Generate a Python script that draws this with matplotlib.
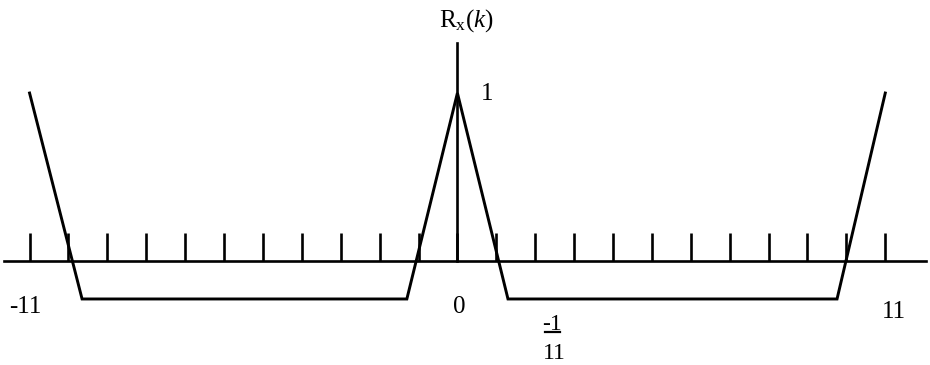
import numpy as np
import matplotlib
matplotlib.use("Agg")
import matplotlib.pyplot as plt
from matplotlib.transforms import blended_transform_factory

plt.rcParams["font.family"] = "Liberation Serif"
plt.rcParams["mathtext.fontset"] = "custom"
plt.rcParams["mathtext.rm"] = "Liberation Serif"
plt.rcParams["mathtext.it"] = "Liberation Serif:italic"

# autocorrelation sketch of a period-11 sequence
N = 11
lags = [-11, -9.65, -1.3, 0, 1.3, 9.76, 11]
R = [1, -1 / N, -1 / N, 1, -1 / N, -1 / N, 1]
tick_lags = np.arange(-11, 12)

# negative part of the axis is stretched so the floor is visible
stretch = 2.49
def fwd(y):
    y = np.asarray(y, dtype=float)
    return np.where(y < 0, y * stretch, y)
def inv(y):
    y = np.asarray(y, dtype=float)
    return np.where(y < 0, y / stretch, y)

fig = plt.figure(figsize=(9.3, 3.65), dpi=100)
ax = fig.add_axes([0, 0, 1, 1])
ax.set_yscale("function", functions=(fwd, inv))
ax.set_xlim(-11.76, 12.15)
ax.set_ylim(-0.2488, 1.554)
ax.axis("off")

lw = 1.9
ax.plot([-11.66, 12.05], [0, 0], color="black", lw=lw)
ax.plot([0, 0], [0, 1.30], color="black", lw=lw)
ax.vlines(tick_lags, 0, 0.167, color="black", lw=lw)
ax.plot(lags, R, color="black", lw=2.1, solid_joinstyle="miter")

# labels: x in lag units, y in axes fraction
tr = blended_transform_factory(ax.transData, ax.transAxes)
def yf(py):
    return 1 - py / 365

fs = 18
ax.text(0.23, yf(27), r"R$_\mathrm{x}$($k$)", transform=tr, ha="center", va="baseline", fontsize=fs)
ax.text(0.77, yf(100), "1", transform=tr, ha="center", va="baseline", fontsize=fs)
ax.text(-11.12, yf(313), "-11", transform=tr, ha="center", va="baseline", fontsize=fs)
ax.text(0.04, yf(313), "0", transform=tr, ha="center", va="baseline", fontsize=fs)
ax.text(11.22, yf(318), "11", transform=tr, ha="center", va="baseline", fontsize=fs)
ax.text(2.42, yf(330), "-1", transform=tr, ha="center", va="baseline", fontsize=17)
ax.plot([2.24, 2.63], [yf(332), yf(332)], transform=tr, color="black", lw=1.6)
ax.text(2.48, yf(359), "11", transform=tr, ha="center", va="baseline", fontsize=17)

fig.savefig("out.png", dpi=100)
